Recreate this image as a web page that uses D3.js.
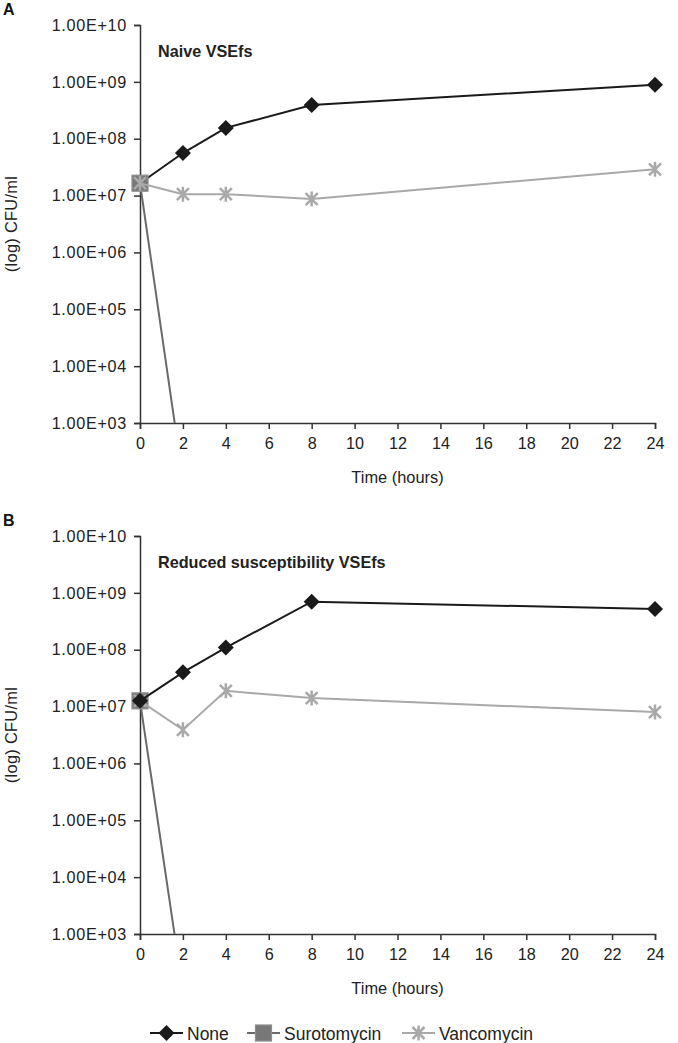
<!DOCTYPE html>
<html>
<head>
<meta charset="utf-8">
<script src="https://cdn.jsdelivr.net/npm/d3@7/dist/d3.min.js"></script>
<style>
  html, body { margin: 0; padding: 0; background: #fff; }
  svg { display: block; font-family: "Liberation Sans", Arial, Helvetica, sans-serif; }
</style>
</head>
<body>
<svg id="chart" width="678" height="1043"></svg>
<script>
// ---- data ----
const times = [0, 2, 4, 8, 24];
const xTicks = [0, 2, 4, 6, 8, 10, 12, 14, 16, 18, 20, 22, 24];
const yTicks = [1e3, 1e4, 1e5, 1e6, 1e7, 1e8, 1e9, 1e10];
const seriesNames = ["None", "Surotomycin", "Vancomycin"];

const noneA  = [1.65e7, 5.6e7, 1.55e8, 3.9e8, 8.9e8];
const suroA  = [1.65e7, 100, 100, 100, 100];
const vancoA = [1.65e7, 1.06e7, 1.06e7, 8.7e6, 2.9e7];

const noneB  = [1.26e7, 4.0e7, 1.09e8, 7.0e8, 5.2e8];
const suroB  = [1.26e7, 100, 100, 100, 100];
const vancoB = [1.26e7, 3.9e6, 1.89e7, 1.41e7, 8.0e6];

const panelLabels = ["A", "B"];
const panelTitles = ["Naive VSEfs", "Reduced susceptibility VSEfs"];
const xTitle = "Time (hours)";
const yTitle = "(log) CFU/ml";

// ---- styles ----
const styles = {
  None:        { color: "#1a1a1a", marker: "diamond" },
  Surotomycin: { color: "#6a6a6a", marker: "square" },
  Vancomycin:  { color: "#a9a9a9", marker: "star" }
};

const svg = d3.select("#chart");
const x0 = 140, x1 = 655;
const x = d3.scaleLinear().domain([0, 24]).range([x0, x1]);

function drawMarker(g, type, cx, cy, color) {
  if (type === "diamond") {
    const s = 8;
    g.append("path")
      .attr("d", `M${cx},${cy - s}L${cx + s},${cy}L${cx},${cy + s}L${cx - s},${cy}Z`)
      .attr("fill", color);
  } else if (type === "square") {
    const s = 8;
    g.append("rect")
      .attr("x", cx - s).attr("y", cy - s)
      .attr("width", 2 * s).attr("height", 2 * s)
      .attr("fill", "#787878").attr("stroke", "#8e8e8e").attr("stroke-width", 1.2);
  } else {
    const s = 7.5;
    const d = s * 0.8;
    g.append("path")
      .attr("d", `M${cx},${cy - s}L${cx},${cy + s}M${cx - d},${cy - d}L${cx + d},${cy + d}M${cx - d},${cy + d}L${cx + d},${cy - d}`)
      .attr("stroke", color).attr("stroke-width", 2.5).attr("fill", "none");
  }
}

function drawPanel(idx, top, bottom, data, order) {
  const y = d3.scaleLog().domain([1e3, 1e10]).range([bottom, top]);
  const g = svg.append("g");

  const clipId = "clip" + idx;
  svg.append("defs").append("clipPath").attr("id", clipId)
    .append("rect").attr("x", 0).attr("y", 0).attr("width", 678).attr("height", bottom);

  // y axis
  const yAxis = d3.axisLeft(y).tickValues(yTicks).tickSizeOuter(0).tickSize(6).tickPadding(7)
    .tickFormat(d => "1.00E+" + String(Math.round(Math.log10(d))).padStart(2, "0"));
  const ya = g.append("g").attr("transform", `translate(${x0},0)`).call(yAxis);
  ya.select(".domain").attr("stroke", "#333").attr("stroke-width", 1.5);
  ya.selectAll(".tick line").attr("stroke", "#333").attr("stroke-width", 1.5);
  ya.selectAll(".tick text").attr("font-size", 16.2).attr("fill", "#222")
    .attr("font-family", "Liberation Sans, Arial, sans-serif").attr("letter-spacing", "0.7px");

  // x axis
  const xAxis = d3.axisBottom(x).tickValues(xTicks).tickSizeOuter(0).tickSize(6).tickPadding(8);
  const xa = g.append("g").attr("transform", `translate(0,${bottom})`).call(xAxis);
  xa.select(".domain").attr("stroke", "#333").attr("stroke-width", 1.5);
  xa.selectAll(".tick line").attr("stroke", "#333").attr("stroke-width", 1.5);
  xa.selectAll(".tick text").attr("font-size", 16.2).attr("fill", "#222")
    .attr("font-family", "Liberation Sans, Arial, sans-serif");

  // titles
  g.append("text").attr("x", 3).attr("y", top - 10).text(panelLabels[idx])
    .attr("font-weight", "bold").attr("font-size", 16).attr("fill", "#111");
  g.append("text").attr("x", 158).attr("y", top + 32).text(panelTitles[idx])
    .attr("font-weight", "bold").attr("font-size", 16.2).attr("fill", "#222");
  g.append("text").attr("x", (x0 + x1) / 2).attr("y", bottom + 60).text(xTitle)
    .attr("text-anchor", "middle").attr("font-size", 16.4).attr("fill", "#222");
  g.append("text").attr("transform", `translate(17,${(top + bottom) / 2}) rotate(-90)`)
    .text(yTitle).attr("text-anchor", "middle").attr("font-size", 16.4).attr("fill", "#222")
    .attr("letter-spacing", "0.3px");

  // series
  const plot = g.append("g").attr("clip-path", `url(#${clipId})`);
  const line = d3.line().x(d => x(d[0])).y(d => y(d[1]));
  order.forEach(name => {
    const vals = data[name];
    const pts = times.map((t, i) => [t, vals[i]]);
    const st = styles[name];
    plot.append("path").datum(pts).attr("d", line)
      .attr("fill", "none").attr("stroke", st.color).attr("stroke-width", 2);
    pts.forEach(p => drawMarker(plot, st.marker, x(p[0]), y(p[1]), st.color));
  });
}

drawPanel(0, 25, 423, { None: noneA, Surotomycin: suroA, Vancomycin: vancoA }, ["None", "Surotomycin", "Vancomycin"]);
drawPanel(1, 536, 934, { None: noneB, Surotomycin: suroB, Vancomycin: vancoB }, ["Surotomycin", "Vancomycin", "None"]);

// legend
const legendX = [150, 247, 402];
const lg = svg.append("g");
seriesNames.forEach((name, i) => {
  const st = styles[name];
  const lx = legendX[i], ly = 1033;
  lg.append("line").attr("x1", lx).attr("x2", lx + 33).attr("y1", ly).attr("y2", ly)
    .attr("stroke", st.color).attr("stroke-width", 2);
  drawMarker(lg, st.marker, lx + 16.5, ly, st.color);
  lg.append("text").attr("x", lx + 37).attr("y", ly + 6.5).text(name)
    .attr("font-size", 17.5).attr("fill", "#222");
});
</script>
</body>
</html>
